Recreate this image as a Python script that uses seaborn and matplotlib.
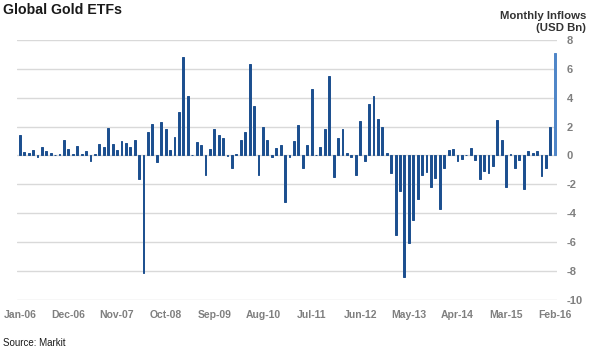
import matplotlib
matplotlib.use("Agg")
import matplotlib.pyplot as plt
import seaborn as sns
import pandas as pd

months = list(pd.date_range("2006-01-01", periods=122, freq="MS").strftime("%b-%y"))

inflows = [
    1.4, 0.25, 0.2, 0.4, -0.1, 0.6, 0.3, 0.2, 0.05, 0.1,
    1.05, 0.45, 0.1, 0.65, 0.1, 0.3, -0.35, 0.1, 0.8, 0.6,
    1.9, 0.8, 0.35, 1.0, 0.85, 0.6, 1.05, -1.65, -8.1, 1.65,
    2.2, -0.45, 2.35, 1.8, 0.4, 1.3, 3.0, 6.8, 4.1, 0.0,
    0.9, 0.72, -1.38, 0.47, 1.86, 1.44, 1.2, -0.05, -0.85, 0.1,
    1.1, 1.63, 6.3, 3.45, -1.38, 2.0, 1.05, -0.1, 0.5, 0.72,
    -3.2, -0.12, 1.0, 2.14, -0.9, 0.7, 4.6, 0.05, 0.58, 1.8,
    5.47, -1.47, 1.2, 1.8, 0.16, -0.12, -1.38, 2.4, -0.4, 3.55,
    4.1, 2.5, 2.0, 0.17, -1.2, -5.52, -2.45, -8.42, -6.05, -4.5,
    -3.0, -1.36, -1.14, -2.15, -1.55, -3.7, -0.85, 0.36, 0.46, -0.4,
    -0.23, 0.03, 0.53, -0.28, -1.66, -1.08, -1.2, -0.7, 2.45, 1.04,
    -2.17, 0.07, -0.85, -0.28, -2.3, 0.3, 0.18, 0.3, -1.43, -0.85,
    2.0, 7.1,
]

highlight = ["history"] * 121 + ["latest"]

yticks = [8, 6, 4, 2, 0, -2, -4, -6, -8, -10]
tick_step = 11

title = "Global Gold ETFs"
unit_label = "Monthly Inflows\n(USD Bn)"
source = "Source: Markit"

df = pd.DataFrame({"month": months, "value": inflows, "kind": highlight})

sns.set_theme(style="white")
plt.rcParams["font.family"] = ["Liberation Sans", "DejaVu Sans"]

fig = plt.figure(figsize=(5.9, 3.5), dpi=100)
ax = fig.add_axes([0.029, 0.143, 0.915, 0.743])

sns.barplot(data=df, x="month", y="value", hue="kind", order=months,
            palette={"history": "#1c4f8f", "latest": "#4f86c8"},
            dodge=False, width=0.42, legend=False, ax=ax, saturation=1)
for p in ax.patches:
    p.set_edgecolor(p.get_facecolor())
    p.set_linewidth(0.7)

ax.set_ylim(-10, 8)
ax.set_xlim(-0.6, 121.5)
ax.set_yticks(yticks)
ax.set_yticklabels([str(v) for v in yticks])
ax.yaxis.tick_right()
ax.grid(axis="y", color="#d9d9d9", linewidth=1)
ax.set_axisbelow(True)
for s in ax.spines.values():
    s.set_visible(False)

xt = list(range(0, len(months), tick_step))
ax.set_xticks(xt)
ax.set_xticklabels([months[i] for i in xt])
ax.tick_params(axis="y", length=0, pad=7, labelsize=8, labelcolor="#7f7f7f")
ax.tick_params(axis="x", length=0, pad=7, labelsize=7.5, labelcolor="#7f7f7f")
for lab in ax.get_yticklabels() + ax.get_xticklabels():
    lab.set_fontweight("bold")
ax.set_xlabel("")
ax.set_ylabel("")

fig.text(3 / 590, 1 - 10 / 350, title, fontsize=10.2, fontweight="bold",
         color="#1a1a1a", ha="left", va="center")
fig.text(586 / 590, 1 - 22 / 350, unit_label, fontsize=8.2, fontweight="bold",
         color="#333333", ha="right", va="center", linespacing=1.2)
fig.text(3 / 590, 1 - 343 / 350, source, fontsize=7, color="#1a1a1a",
         ha="left", va="center")

fig.savefig("out.png", dpi=100)
